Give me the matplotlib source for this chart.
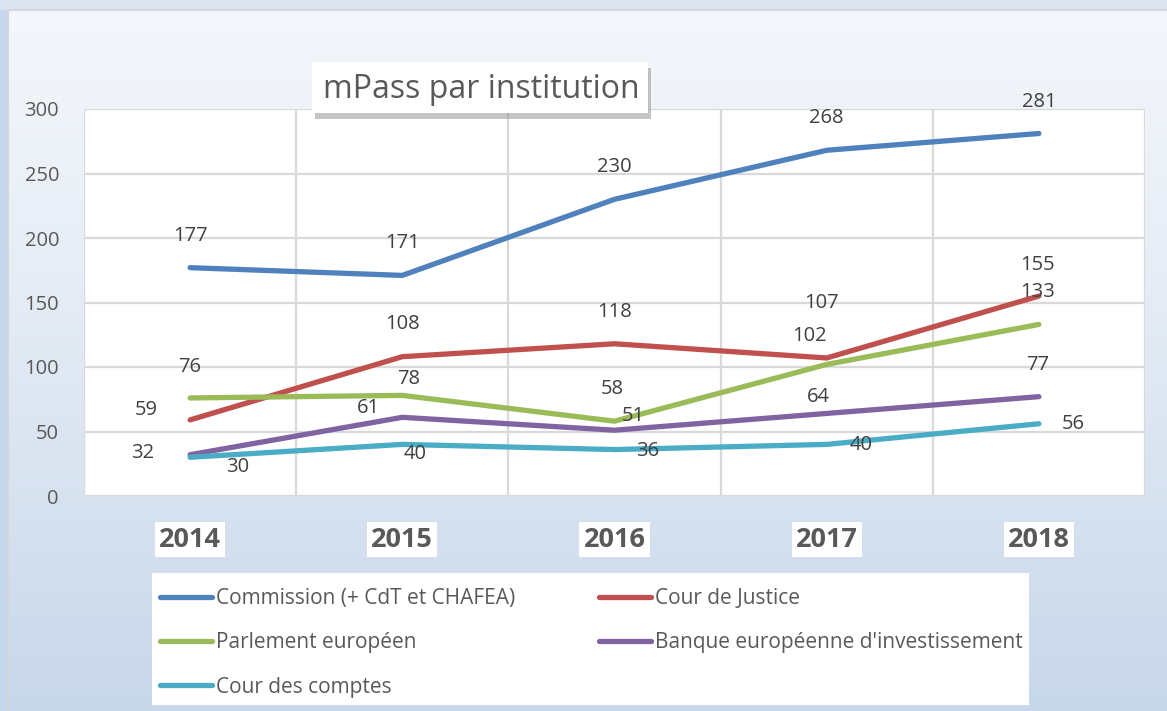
import matplotlib
matplotlib.use("Agg")
import matplotlib.pyplot as plt
import numpy as np
from matplotlib import patheffects as pe
from matplotlib.patches import Rectangle

plt.rcParams['font.family'] = ['Open Sans', 'DejaVu Sans']

years = ["2014", "2015", "2016", "2017", "2018"]
series_names = ["Commission (+ CdT et CHAFEA)", "Cour de Justice", "Parlement européen",
                "Banque européenne d'investissement", "Cour des comptes"]
commission = [177, 171, 230, 268, 281]
cour_justice = [59, 108, 118, 107, 155]
parlement = [76, 78, 58, 102, 133]
bei = [32, 61, 51, 64, 77]
cour_comptes = [30, 40, 36, 40, 56]
title = "mPass par institution"

values = [commission, cour_justice, parlement, bei, cour_comptes]
colors = ["#4F81BD", "#C0504D", "#9BBB59", "#8064A2", "#4BACC6"]
# label offsets in pixels (dx, dy)
offsets = [
    [(0, 32)] * 5,
    [(-44, 10), (0, 33), (0, 32), (-5, 55), (-1, 31)],
    [(0, 31), (6, 16), (-2, 32), (-17, 28), (-1, 32)],
    [(-47, 2), (-34, 9), (19, 14), (-8, 16), (-1, 32)],
    [(48, -10), (13, -10), (33, -1), (34, -1), (34, 0)],
]

W, H = 1167, 711
fig = plt.figure(figsize=(W / 100, H / 100), dpi=100)

def fx(px):
    return px / W

def fy(py):
    return 1 - py / H

# background gradient
bg = fig.add_axes([0, 0, 1, 1], zorder=-10)
grad = np.linspace(0, 1, 256).reshape(-1, 1)
top = np.array([0.957, 0.969, 0.984])
bot = np.array([0.784, 0.843, 0.918])
img = top + (bot - top) * grad[:, :, None] ** 1.2
bg.imshow(img, aspect='auto', extent=[0, 1, 0, 1], origin='upper')
bg.add_patch(Rectangle((0, 0), fx(8), 1, color="#c6d6ec", lw=0))
bg.add_patch(Rectangle((0, fy(10)), 1, 10 / H, color="#dce6f3", lw=0))
bg.plot([fx(8), fx(8), 1], [0, fy(10), fy(10)], color="#d4d8dd", lw=1.5)
# legend background box
bg.add_patch(Rectangle((fx(152), fy(705)), fx(1029) - fx(152), fy(573) - fy(705), color="white", lw=0))
bg.set_xlim(0, 1)
bg.set_ylim(0, 1)
bg.axis('off')

L, R, T, B = 84, 1145, 109, 496
ax = fig.add_axes([fx(L), fy(B), (R - L) / W, (B - T) / H])
ax.set_facecolor("white")
x = np.arange(len(years))
handles = []
for vals, col, name, offs in zip(values, colors, series_names, offsets):
    h, = ax.plot(x, vals, color=col, lw=3.8, solid_capstyle='round', solid_joinstyle='round',
                 label=name, zorder=3)
    handles.append(h)
    for xi, v, (dx, dy) in zip(x, vals, offs):
        ax.annotate(str(v), (xi, v), xytext=(dx, dy), textcoords='offset pixels',
                    ha='center', va='center', fontsize=14.5, color="#404040", zorder=4)

ax.set_xlim(-0.5, len(years) - 0.5)
ax.set_ylim(0, 300)
ax.set_yticks(range(0, 301, 50))
ax.set_xticks(x)
ax.set_xticks(np.arange(-0.5, len(years), 1.0), minor=True)
ax.set_xticklabels(years, fontsize=19.5, fontweight='bold', color="#595959")
for lab in ax.get_xticklabels():
    lab.set_bbox(dict(facecolor='white', edgecolor='none', pad=3))
ax.tick_params(axis='x', which='both', length=0, pad=22)
ax.tick_params(axis='y', length=0, pad=18, labelsize=14.5, labelcolor="#595959")
ax.grid(axis='y', color="#d9d9d9", lw=1.6, zorder=0)
ax.grid(axis='x', which='minor', color="#d9d9d9", lw=1.6, zorder=0)
ax.grid(axis='x', which='major', visible=False)
for s in ax.spines.values():
    s.set_visible(False)
ax.set_axisbelow(True)

order = [0, 2, 4, 1, 3]
leg = fig.legend([handles[i] for i in order], [series_names[i] for i in order],
                 loc='upper left', bbox_to_anchor=(fx(160), fy(588)), ncol=2,
                 fontsize=15, frameon=False, borderaxespad=0, borderpad=0,
                 handlelength=2.5, handletextpad=0.2, columnspacing=4.0,
                 labelspacing=1.12)
for t in leg.get_texts():
    t.set_color("#595959")
for h in leg.get_lines():
    h.set_linewidth(3.8)
    h.set_solid_capstyle('round')

# title box with shadow
tbox = Rectangle((fx(312), fy(113)), fx(648) - fx(312), fy(62) - fy(113), transform=fig.transFigure,
                 facecolor='white', edgecolor='none', zorder=9)
tbox.set_path_effects([pe.SimplePatchShadow(offset=(2, -4), shadow_rgbFace='#808080', alpha=0.45),
                       pe.Normal()])
fig.patches.append(tbox)
fig.text(fx(481), fy(89), title, ha='center', va='center', fontsize=23, color="#595959", zorder=10)

fig.savefig("out.png", dpi=100)
